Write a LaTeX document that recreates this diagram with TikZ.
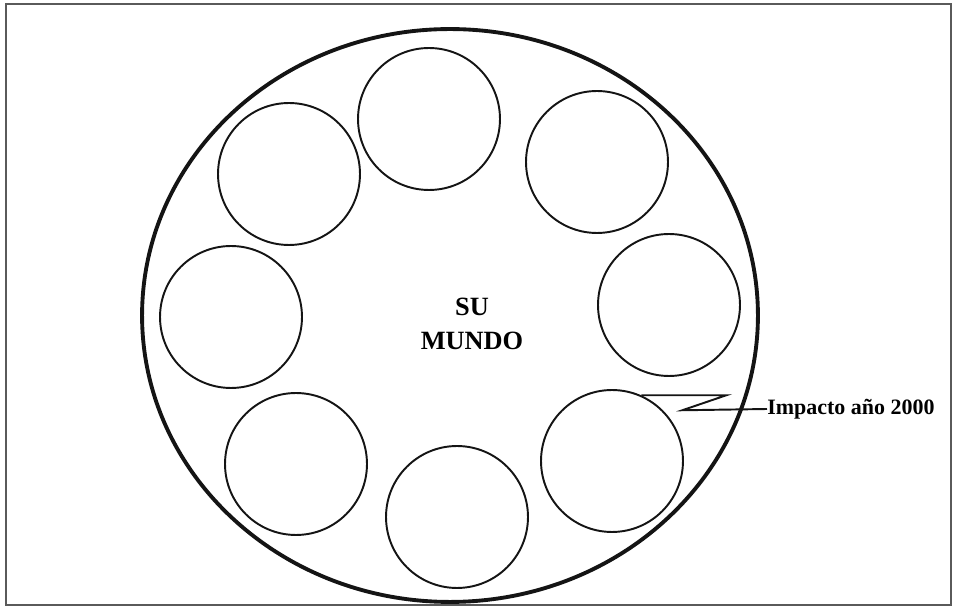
\documentclass[tikz,border=0pt]{standalone}
\usepackage{fontspec}
\setmainfont{Liberation Serif}
\usepackage{tikz}
\usetikzlibrary{shapes.geometric, positioning}
\definecolor{myink}{RGB}{20,20,20}
\definecolor{myframe}{RGB}{90,90,90}
\tikzset{
  world/.style={ellipse, draw=myink, line width=2.2pt,
    minimum width=12.32cm, minimum height=11.46cm, inner sep=0pt},
  smallcirc/.style={circle, draw=myink, line width=1.1pt,
    minimum size=2.84cm, inner sep=0pt},
  bolt/.style={draw=myink, line width=1.1pt},
  framebox/.style={draw=myframe, line width=0.6pt}
}

\begin{document}
\begin{tikzpicture}[x=0.02cm, y=-0.02cm]
  \useasboundingbox (0,0) rectangle (954,607);
  \draw[framebox] (6,4) rectangle (951,605);

  % Big world
  \node[world] (mundo) at (450,315.5) {};
  \node[font=\fontsize{15}{19.4}\selectfont\bfseries, align=center] (title) at (472,324) {SU\\MUNDO};

  % Small circles
  \node[smallcirc] (c_top) at (429,119) {};
  \node[smallcirc] (c_ur) at (597,162) {};
  \node[smallcirc] (c_r) at (669,305) {};
  \node[smallcirc] (c_lr) at (612,461) {};
  \node[smallcirc] (c_b) at (457,517) {};
  \node[smallcirc] (c_ll) at (296,464) {};
  \node[smallcirc] (c_l) at (231,317) {};
  \node[smallcirc] (c_ul) at (289,174) {};

  % Impact label
  \node[font=\fontsize{12.5}{14}\selectfont\bfseries, anchor=west, inner sep=0pt] (impacto) at (767,409) {Impacto año 2000};
  \draw[bolt] (c_lr.66) -- ++(85,0) -- ++(-44,15) -- (impacto.west);
\end{tikzpicture}
\end{document}
